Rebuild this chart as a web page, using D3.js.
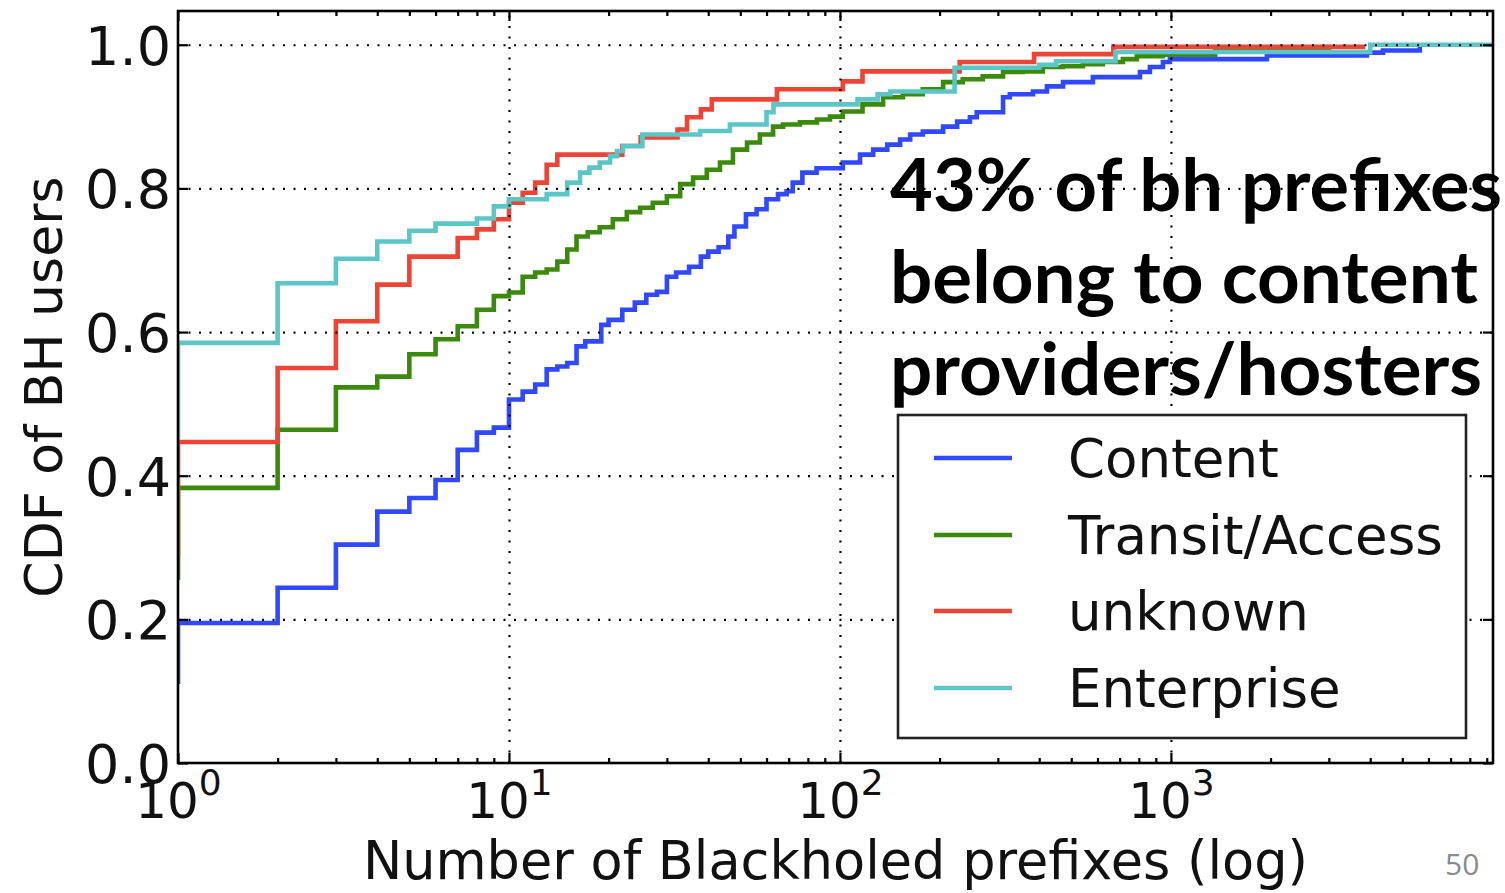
<!DOCTYPE html>
<html>
<head>
<meta charset="utf-8">
<script src="https://cdn.jsdelivr.net/npm/d3@7"></script>
<style>
  body { margin: 0; background: #ffffff; }
  svg { display: block; }
  .tick text { font-family: "DejaVu Sans", sans-serif; }
</style>
</head>
<body>
<svg id="chart" width="1505" height="893"></svg>
<script>
// Series names and colours, in drawing order
const seriesNames = ["Content", "Transit/Access", "unknown", "Enterprise"];
const seriesColors = ["#3048ff", "#3b8a0c", "#ee4436", "#5cc6c6"];

// Empirical CDF steps: number of blackholed prefixes -> fraction of users
const contentX = [1, 1, 2, 3, 4, 5, 6, 7, 8, 9, 10, 11, 12, 13, 14, 15, 16, 17, 19, 20, 22, 24, 26, 28, 30, 32, 35, 38, 40, 43, 46, 48, 52, 56, 60, 65, 69, 72, 77, 85, 102, 115, 126, 139, 152, 163, 178, 205, 226, 247, 259, 311, 326, 383, 422, 472, 581, 806, 864, 946, 993, 1950, 3910, 4370, 5650];
const contentY = [0.11, 0.195, 0.244, 0.304, 0.350, 0.369, 0.394, 0.436, 0.460, 0.467, 0.506, 0.517, 0.527, 0.548, 0.552, 0.557, 0.580, 0.587, 0.610, 0.617, 0.631, 0.641, 0.652, 0.656, 0.677, 0.683, 0.691, 0.705, 0.712, 0.718, 0.733, 0.747, 0.764, 0.771, 0.785, 0.792, 0.796, 0.808, 0.822, 0.828, 0.836, 0.847, 0.854, 0.861, 0.868, 0.875, 0.879, 0.886, 0.893, 0.899, 0.906, 0.927, 0.931, 0.935, 0.942, 0.948, 0.955, 0.962, 0.969, 0.976, 0.980, 0.985, 0.989, 0.992, 1.0];

const transitX = [1, 1, 2, 3, 4, 5, 6, 7, 8, 9, 10, 11, 12, 13, 14, 15, 16, 17.3, 18.8, 20.6, 22.7, 24.9, 27.2, 30, 32.9, 36, 39.6, 43.4, 47.5, 52.4, 57.3, 62.8, 67.3, 75.7, 85.2, 93.3, 102, 117, 135, 155, 178, 205, 235, 270, 311, 357, 410, 472, 542, 623, 716, 789, 946, 1360, 3000];
const transitY = [0.255, 0.383, 0.464, 0.523, 0.538, 0.569, 0.590, 0.608, 0.631, 0.650, 0.655, 0.677, 0.683, 0.687, 0.698, 0.715, 0.733, 0.739, 0.746, 0.757, 0.767, 0.773, 0.780, 0.789, 0.806, 0.815, 0.826, 0.836, 0.854, 0.864, 0.875, 0.886, 0.889, 0.892, 0.896, 0.900, 0.907, 0.917, 0.927, 0.931, 0.938, 0.948, 0.952, 0.956, 0.962, 0.963, 0.969, 0.970, 0.973, 0.976, 0.980, 0.984, 0.986, 0.993, 1.0];

const unknownX = [1, 1, 2, 3, 4, 5, 7, 8, 9, 10, 11, 12, 13, 14, 22, 25, 32.3, 34.5, 38, 41, 64.5, 102, 117, 230, 386, 670, 3800];
const unknownY = [0.287, 0.447, 0.550, 0.615, 0.666, 0.705, 0.731, 0.743, 0.757, 0.780, 0.794, 0.808, 0.833, 0.847, 0.859, 0.871, 0.882, 0.899, 0.910, 0.924, 0.938, 0.949, 0.963, 0.976, 0.987, 0.997, 1.0];

const enterpriseX = [1, 1, 2, 3, 4, 5, 6, 8, 9, 10, 13, 15, 16.4, 17.5, 18.8, 20.2, 21.2, 22.1, 25.3, 37.8, 46.5, 60, 63, 113, 130, 142, 222, 400, 450, 680, 4000, 9400];
const enterpriseY = [0.45, 0.585, 0.668, 0.702, 0.726, 0.741, 0.751, 0.758, 0.775, 0.785, 0.792, 0.808, 0.822, 0.829, 0.836, 0.845, 0.852, 0.859, 0.875, 0.880, 0.889, 0.906, 0.917, 0.924, 0.931, 0.935, 0.968, 0.972, 0.977, 0.990, 1.0, 1.0];

// Axis ticks and labels
const xMajorTicks = [1, 10, 100, 1000];
const xTickExponents = ["0", "1", "2", "3"];
const xMinorTicks = [2,3,4,5,6,7,8,9, 20,30,40,50,60,70,80,90, 200,300,400,500,600,700,800,900, 2000,3000,4000,5000,6000,7000,8000,9000];
const yTicks = [0.0, 0.2, 0.4, 0.6, 0.8, 1.0];
const xDomain = [1, 9400];
const yDomain = [0, 1.047];

const xLabel = "Number of Blackholed prefixes (log)";
const yLabel = "CDF of BH users";
const noteLines = ["43% of bh prefixes", "belong to content", "providers/hosters"];
const pageNumber = "50";

// ---------------------------------------------------------------
const svg = d3.select("#chart");
const plot = { left: 178, right: 1493, top: 11, bottom: 763 };
const W = plot.right - plot.left, H = plot.bottom - plot.top;

const x = d3.scaleLog().domain(xDomain).range([plot.left, plot.right]);
const y = d3.scaleLinear().domain(yDomain).range([plot.bottom, plot.top]);

svg.append("defs").append("clipPath").attr("id", "plotClip")
  .append("rect").attr("x", plot.left).attr("y", plot.top).attr("width", W).attr("height", H);

// Series lines (step after)
const series = [
  { xs: contentX, ys: contentY },
  { xs: transitX, ys: transitY },
  { xs: unknownX, ys: unknownY },
  { xs: enterpriseX, ys: enterpriseY }
];
const line = d3.line().x(d => x(d[0])).y(d => y(d[1])).curve(d3.curveStepAfter);
const linesG = svg.append("g").attr("clip-path", "url(#plotClip)");
series.forEach((s, i) => {
  const pts = s.xs.map((v, k) => [v, s.ys[k]]);
  linesG.append("path").datum(pts)
    .attr("d", line)
    .attr("fill", "none")
    .attr("stroke", seriesColors[i])
    .attr("stroke-width", 4.6)
    .attr("stroke-linejoin", "miter");
});

// Dotted grid at major ticks
const gridStyle = g => {
  g.select(".domain").remove();
  g.selectAll(".tick line").attr("stroke", "#000").attr("stroke-width", 2.2)
    .attr("stroke-dasharray", "2,8.5");
  g.selectAll("text").remove();
};
svg.append("g").attr("transform", `translate(0,${plot.bottom})`)
  .call(d3.axisBottom(x).tickValues(xMajorTicks.slice(1)).tickSize(-H).tickFormat(""))
  .call(gridStyle);
svg.append("g").attr("transform", `translate(${plot.left},0)`)
  .call(d3.axisLeft(y).tickValues(yTicks.slice(1)).tickSize(-W).tickFormat(""))
  .call(gridStyle);

// Ticks on all four sides, pointing inward
const tickStyle = g => {
  g.select(".domain").remove();
  g.selectAll(".tick line").attr("stroke", "#000").attr("stroke-width", 2.2);
};
const majorLen = 10, minorLen = 5;
svg.append("g").attr("transform", `translate(0,${plot.bottom})`)
  .call(d3.axisBottom(x).tickValues(xMajorTicks).tickSizeInner(-majorLen).tickSizeOuter(0).tickFormat(""))
  .call(tickStyle);
svg.append("g").attr("transform", `translate(0,${plot.bottom})`)
  .call(d3.axisBottom(x).tickValues(xMinorTicks).tickSizeInner(-minorLen).tickSizeOuter(0).tickFormat(""))
  .call(tickStyle);
svg.append("g").attr("transform", `translate(0,${plot.top})`)
  .call(d3.axisTop(x).tickValues(xMajorTicks).tickSizeInner(-majorLen).tickSizeOuter(0).tickFormat(""))
  .call(tickStyle);
svg.append("g").attr("transform", `translate(0,${plot.top})`)
  .call(d3.axisTop(x).tickValues(xMinorTicks).tickSizeInner(-minorLen).tickSizeOuter(0).tickFormat(""))
  .call(tickStyle);
svg.append("g").attr("transform", `translate(${plot.right},0)`)
  .call(d3.axisRight(y).tickValues(yTicks).tickSizeInner(-majorLen).tickSizeOuter(0).tickFormat(""))
  .call(tickStyle);

// Left axis with labels
const yAxisG = svg.append("g").attr("transform", `translate(${plot.left},0)`)
  .call(d3.axisLeft(y).tickValues(yTicks).tickSizeInner(-majorLen).tickSizeOuter(0)
    .tickPadding(8).tickFormat(d3.format(".1f")));
yAxisG.select(".domain").remove();
yAxisG.selectAll(".tick line").attr("stroke", "#000").attr("stroke-width", 2.2);
yAxisG.selectAll(".tick text").attr("font-size", 54).attr("fill", "#111")
  .attr("x", -7).attr("dy", "0.36em");

// Bottom axis labels as powers of ten
const xAxisG = svg.append("g").attr("transform", `translate(0,${plot.bottom})`)
  .call(d3.axisBottom(x).tickValues(xMajorTicks).tickSize(0).tickPadding(0).tickFormat(""));
xAxisG.select(".domain").remove();
xAxisG.selectAll(".tick").each(function(d, i) {
  const t = d3.select(this).select("text")
    .attr("y", 55).attr("dy", null).attr("fill", "#111")
    .attr("text-anchor", "middle").attr("font-size", 50);
  t.text(null);
  t.append("tspan").text("10");
  t.append("tspan").attr("font-size", 36).attr("dy", -23).text(xTickExponents[i]);
});

// Frame
svg.append("rect")
  .attr("x", plot.left).attr("y", plot.top).attr("width", W).attr("height", H)
  .attr("fill", "none").attr("stroke", "#000").attr("stroke-width", 2.6);

// Axis titles
svg.append("text")
  .attr("x", (plot.left + plot.right) / 2).attr("y", 879)
  .attr("text-anchor", "middle")
  .attr("font-family", "DejaVu Sans, sans-serif").attr("font-size", 52.5).attr("fill", "#111")
  .text(xLabel);
svg.append("text")
  .attr("transform", `translate(62,${(plot.top + plot.bottom) / 2}) rotate(-90)`)
  .attr("text-anchor", "middle")
  .attr("font-family", "DejaVu Sans, sans-serif").attr("font-size", 52).attr("fill", "#111")
  .text(yLabel);

// Legend
const legend = { x: 898, y: 415, w: 568, h: 323, rowY: [458, 535, 611, 688] };
const lg = svg.append("g");
lg.append("rect").attr("x", legend.x).attr("y", legend.y)
  .attr("width", legend.w).attr("height", legend.h)
  .attr("fill", "#fff").attr("stroke", "#222").attr("stroke-width", 2.6);
seriesNames.forEach((name, i) => {
  const ry = legend.rowY[i];
  lg.append("line").attr("x1", 934).attr("x2", 1012).attr("y1", ry).attr("y2", ry)
    .attr("stroke", seriesColors[i]).attr("stroke-width", 4.6);
  lg.append("text").attr("x", 1068).attr("y", ry + 19)
    .attr("font-family", "DejaVu Sans, sans-serif").attr("font-size", 53).attr("fill", "#111")
    .text(name);
});

// Annotation
const noteBaselines = [211, 303, 395];
const noteWidths = [612, 588, 592];
noteLines.forEach((txt, i) => {
  svg.append("text").attr("x", 890).attr("y", noteBaselines[i])
    .attr("font-family", "Lato, 'Open Sans', sans-serif").attr("font-weight", 700)
    .attr("font-size", 72).attr("fill", "#000")
    .attr("textLength", noteWidths[i]).attr("lengthAdjust", "spacingAndGlyphs")
    .text(txt);
});

// Slide number
svg.append("text").attr("x", 1445).attr("y", 875)
  .attr("font-family", "'Open Sans', Lato, sans-serif").attr("font-size", 30).attr("fill", "#8a8a8a")
  .text(pageNumber);
</script>
</body>
</html>
